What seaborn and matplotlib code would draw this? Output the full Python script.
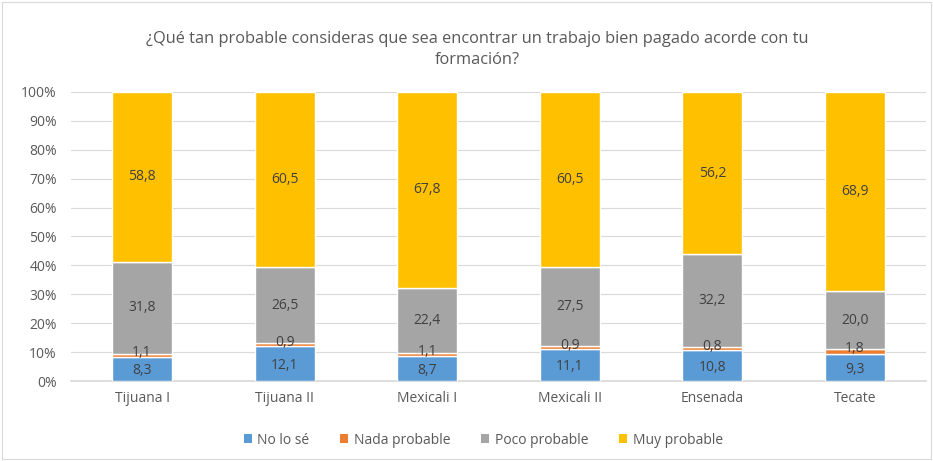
import matplotlib
matplotlib.use("Agg")
import matplotlib.pyplot as plt
import seaborn as sns
import pandas as pd
import numpy as np
from matplotlib.patches import Patch

categories = ["Tijuana I", "Tijuana II", "Mexicali I", "Mexicali II", "Ensenada", "Tecate"]
no_lo_se = [8.3, 12.1, 8.7, 11.1, 10.8, 9.3]
nada_probable = [1.1, 0.9, 1.1, 0.9, 0.8, 1.8]
poco_probable = [31.8, 26.5, 22.4, 27.5, 32.2, 20.0]
muy_probable = [58.8, 60.5, 67.8, 60.5, 56.2, 68.9]
series_names = ["No lo sé", "Nada probable", "Poco probable", "Muy probable"]
colors = ["#5B9BD5", "#ED7D31", "#A5A5A5", "#FFC000"]
title = "¿Qué tan probable consideras que sea encontrar un trabajo bien pagado acorde con tu\nformación?"

sns.set_theme(style="white")
plt.rcParams['font.family'] = ['Open Sans', 'DejaVu Sans']

fig = plt.figure(figsize=(9.33, 4.61), dpi=100)
ax = fig.add_axes([0.0758, 0.1735, 0.917, 0.627])

fs = 10
series = [no_lo_se, nada_probable, poco_probable, muy_probable]
bottom = np.zeros(len(categories))
for name, vals, col in zip(series_names, series, colors):
    df = pd.DataFrame({"cat": categories, "val": vals})
    sns.barplot(data=df, x="cat", y="val", color=col, width=0.42, bottom=bottom,
                ax=ax, saturation=1, zorder=3)
    for i, v in enumerate(vals):
        y = bottom[i] + v / 2
        if name == "Nada probable":
            y = bottom[i] + v / 2 + 0.9
        elif name == "No lo sé":
            y = bottom[i] + v / 2 - 0.6
        ax.text(i, y, f"{v:.1f}".replace(".", ","), ha="center", va="center",
                fontsize=fs, color="#404040", zorder=5)
    bottom = bottom + np.array(vals)

ax.set_ylim(0, 100)
ax.set_xlim(-0.5, len(categories) - 0.5)
ax.set_yticks(range(0, 101, 10))
ax.set_yticklabels([f"{t}%" for t in range(0, 101, 10)], fontsize=fs, color="#595959")
ax.tick_params(axis="x", labelsize=fs, colors="#595959", length=0, pad=7)
ax.tick_params(axis="y", length=0, pad=10)
ax.set_xlabel("")
ax.set_ylabel("")
ax.grid(axis="y", color="#D9D9D9", linewidth=0.8, zorder=0)
for s in ["top", "right", "left"]:
    ax.spines[s].set_visible(False)
ax.spines["bottom"].set_color("#D9D9D9")

fig.text(0.512, 0.893, title, ha="center", va="center", fontsize=11.8, color="#595959",
         linespacing=1.45)

handles = [Patch(facecolor=c, edgecolor="none") for c in colors]
fig.legend(handles, series_names, loc="center", bbox_to_anchor=(0.518, 0.045), ncol=4,
           frameon=False, fontsize=fs, handlelength=0.6, handleheight=0.6,
           columnspacing=2.2, handletextpad=0.4, labelcolor="#595959")

fig.patches.append(matplotlib.patches.Rectangle((0.002, 0.004), 0.996, 0.992,
                   transform=fig.transFigure, fill=False, edgecolor="#D9D9D9", linewidth=0.8))

fig.savefig("out.png", dpi=100)
